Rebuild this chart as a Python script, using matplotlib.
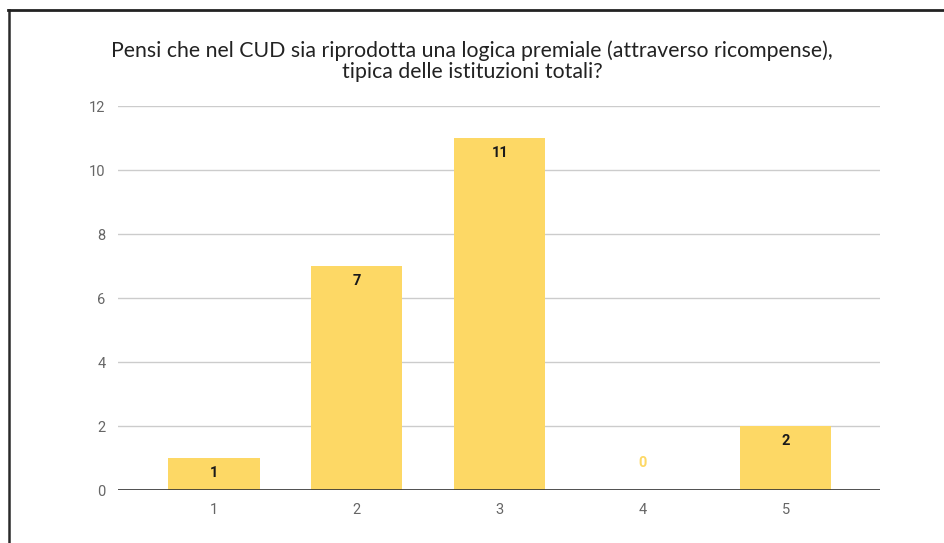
import matplotlib.pyplot as plt
from matplotlib.lines import Line2D

categories = ["1", "2", "3", "4", "5"]
counts = [1, 7, 11, 0, 2]
yticks = [0, 2, 4, 6, 8, 10, 12]
title = ("Pensi che nel CUD sia riprodotta una logica premiale (attraverso ricompense),\n"
         "tipica delle istituzioni totali?")

bar_color = "#fdd865"

fig = plt.figure(figsize=(9.44, 5.43), dpi=100)
ax = fig.add_axes([118 / 944, 53 / 543, 762 / 944, 384 / 543])

xs = list(range(1, len(categories) + 1))
ax.bar(xs, counts, width=0.64, color=bar_color, zorder=3)

for x, v in zip(xs, counts):
    if v > 0:
        ax.annotate(str(v), (x, v), xytext=(0, -15), textcoords="offset pixels",
                    ha="center", va="center", fontsize=10.5, fontweight="bold",
                    color="#1a1a1a", family="Roboto", zorder=4)
    else:
        ax.annotate(str(v), (x, v), xytext=(0, 27), textcoords="offset pixels",
                    ha="center", va="center", fontsize=10.5, fontweight="bold",
                    color=bar_color, family="Roboto", zorder=4)

ax.set_xlim(0.33, 5.66)
ax.set_ylim(0, 12)
ax.set_yticks(yticks)
ax.set_xticks(xs)
ax.set_xticklabels(categories)
ax.grid(axis="y", color="#cccccc", linewidth=1, zorder=0)
ax.axhline(0, color="#333333", linewidth=1.2, zorder=5)
for s in ax.spines.values():
    s.set_visible(False)
ax.tick_params(axis="both", length=0, labelsize=10.5, labelcolor="#666666")
ax.tick_params(axis="y", pad=9)
ax.tick_params(axis="x", pad=9)
for lab in ax.get_xticklabels() + ax.get_yticklabels():
    lab.set_family("Roboto")

fig.text(472 / 944, 1 - 61 / 543, title, ha="center", va="center",
         fontsize=15.3, family="Lato", color="#222222", linespacing=1.03)

# black frame edges at top and left of the screenshot
fig.add_artist(Line2D([9 / 944, 9 / 944], [0, 1 - 10 / 543], color="#2a2a2a",
                      linewidth=1.8, transform=fig.transFigure))
fig.add_artist(Line2D([8 / 944, 1], [1 - 10 / 543, 1 - 10 / 543], color="#222222",
                      linewidth=2, transform=fig.transFigure))

fig.savefig("out.png", dpi=100)
